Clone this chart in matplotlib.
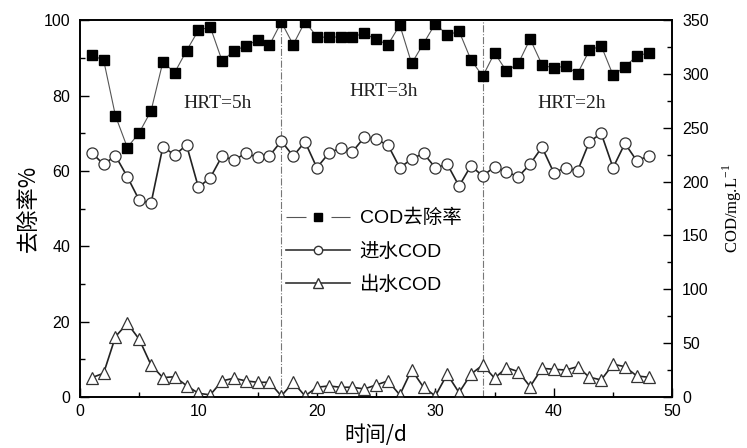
import matplotlib
matplotlib.use("Agg")
import matplotlib.pyplot as plt
from matplotlib.lines import Line2D
from matplotlib.ticker import MultipleLocator

plt.rcParams['font.family'] = ['Liberation Sans', 'Noto Sans CJK SC', 'DejaVu Sans']
plt.rcParams['mathtext.fontset'] = 'custom'
plt.rcParams['mathtext.rm'] = 'Liberation Serif'

days = list(range(1, 49))

# COD removal rate, %
removal = [90.7, 89.4, 74.6, 66.2, 70.1, 75.9, 88.9, 86.1, 91.9, 97.3,
           98.2, 89.2, 91.8, 93.2, 94.7, 93.4, 99.5, 93.5, 99.6, 95.6,
           95.4, 95.6, 95.6, 96.5, 94.9, 93.5, 98.7, 88.5, 93.8, 99.1,
           96.0, 97.1, 89.5, 85.1, 91.3, 86.5, 88.5, 95.0, 88.2, 87.2,
           87.9, 85.8, 92.0, 93.2, 85.4, 87.6, 90.5, 91.3]

# influent COD, mg/L
cod_in = [226.8, 216.0, 224.0, 204.5, 182.9, 179.8, 232.4, 224.7, 234.0, 194.7,
          203.6, 223.8, 220.0, 226.3, 222.6, 224.0, 237.7, 223.7, 237.0, 212.9,
          226.3, 231.5, 227.7, 241.1, 239.2, 234.0, 212.9, 221.0, 226.3, 212.9,
          216.3, 195.9, 214.7, 205.2, 213.8, 209.2, 204.5, 216.3, 232.0, 208.3,
          212.9, 209.8, 237.0, 244.8, 212.9, 235.5, 219.4, 223.8]

# effluent COD, mg/L
cod_out = [17.9, 22.0, 56.0, 68.4, 53.6, 29.7, 17.9, 18.8, 10.5, 3.4,
           1.9, 14.9, 17.4, 14.9, 13.6, 13.6, 0.9, 13.6, 0.9, 9.0,
           10.2, 9.0, 9.0, 7.4, 11.1, 14.9, 1.9, 25.1, 9.0, 0.9,
           21.1, 4.0, 21.1, 29.7, 17.4, 27.2, 23.5, 9.6, 26.6, 25.7,
           25.0, 28.1, 18.3, 15.8, 30.4, 28.1, 19.5, 18.3]

hrt_bounds = [17, 34]
hrt_labels = ['HRT=5h', 'HRT=3h', 'HRT=2h']
hrt_pos = [(11.6, 78), (25.6, 81), (41.5, 78)]

fig = plt.figure(figsize=(7.47, 4.48), dpi=100)
ax = fig.add_axes([0.107, 0.114, 0.793, 0.841])
ax2 = ax.twinx()

ax.plot(days, removal, color='#555555', lw=0.8, marker='s', ms=6.5,
        mfc='black', mec='black', zorder=3)
ax2.plot(days, cod_in, color='#222222', lw=1.2, marker='o', ms=8,
         mfc='white', mec='#333333', mew=0.9)
ax2.plot(days, cod_out, color='#222222', lw=1.2, marker='^', ms=8.5,
         mfc='white', mec='#333333', mew=0.9)

for b in hrt_bounds:
    ax.axvline(b, color='#777777', lw=0.8, ls='-.')

for lab, (x, y) in zip(hrt_labels, hrt_pos):
    ax.text(x, y, lab, ha='center', va='center', fontsize=14,
            family='Liberation Serif', color='#222222')

ax.set_xlim(0, 50)
ax.set_ylim(0, 100)
ax2.set_ylim(0, 350)
ax.xaxis.set_major_locator(MultipleLocator(10))
ax.xaxis.set_minor_locator(MultipleLocator(5))
ax.yaxis.set_major_locator(MultipleLocator(20))
ax.yaxis.set_minor_locator(MultipleLocator(10))
ax2.yaxis.set_major_locator(MultipleLocator(50))
ax2.yaxis.set_minor_locator(MultipleLocator(25))

for a in (ax, ax2):
    a.tick_params(which='both', direction='in', labelsize=11.5, width=1)
    a.tick_params(which='major', length=6.5, pad=7)
    a.tick_params(which='minor', length=3.5)
    for s in a.spines.values():
        s.set_linewidth(1.2)
ax.tick_params(axis='x', pad=5)

ax.set_ylabel('去除率%', family=['Noto Sans CJK SC'], fontsize=16, labelpad=3)
ax.set_xlabel('时间/d', family=['Noto Sans CJK SC'], fontsize=15, labelpad=4)
ax2.set_ylabel('COD/mg.L$^{-1}$', family='Liberation Serif', fontsize=12,
               labelpad=9)

handles = [
    Line2D([], [], color='#555555', lw=0.8, ls=(0, (18, 22.5)), marker='s',
           ms=5.5, mfc='black', mec='black'),
    Line2D([], [], color='#333333', lw=1.2, marker='o', ms=6,
           mfc='white', mec='#333333'),
    Line2D([], [], color='#333333', lw=1.2, marker='^', ms=6.5,
           mfc='white', mec='#333333'),
]
labels = ['COD去除率', '进水COD', '出水COD']
leg = ax2.legend(handles, labels, loc='upper left', bbox_to_anchor=(0.318, 0.545),
                 frameon=False, handlelength=3.3,
                 handletextpad=0.5, labelspacing=0.78,
                 prop={'family': ['Liberation Sans', 'Noto Sans CJK SC'], 'size': 14})

fig.savefig('out.png', dpi=100)
